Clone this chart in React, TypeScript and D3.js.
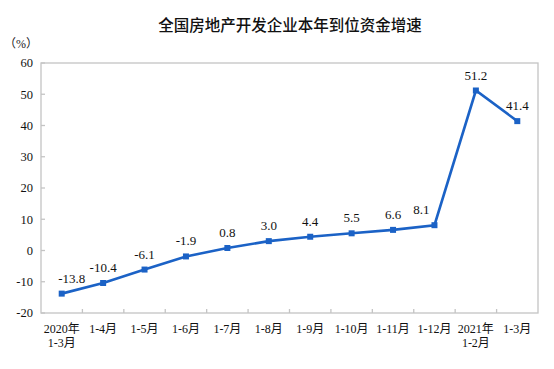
import React from "react";
import * as d3 from "d3";

const W = 554;
const H = 369;

// categories (multi-line labels split with \n)
const categories = [
  "2020年\n1-3月", "1-4月", "1-5月", "1-6月", "1-7月", "1-8月",
  "1-9月", "1-10月", "1-11月", "1-12月", "2021年\n1-2月", "1-3月",
];
const growth = [-13.8, -10.4, -6.1, -1.9, 0.8, 3.0, 4.4, 5.5, 6.6, 8.1, 51.2, 41.4];
const yTicks = [-20, -10, 0, 10, 20, 30, 40, 50, 60];

const margin = { top: 63, right: 16, bottom: 56, left: 41 };
const BLUE = "#1b62c6";
const SERIF = "'Liberation Serif', 'Times New Roman', 'Noto Sans CJK SC', serif";

export default function App() {
  const innerW = W - margin.left - margin.right;
  const innerH = H - margin.top - margin.bottom;

  const x = d3.scaleBand<string>().domain(categories).range([0, innerW]).padding(0);
  const y = d3.scaleLinear().domain([-20, 60]).range([innerH, 0]);
  const cx = (i: number) => (x(categories[i]) ?? 0) + x.bandwidth() / 2;

  const line = d3
    .line<number>()
    .x((_, i) => cx(i))
    .y((d) => y(d));

  // nudge a couple of labels like the original
  const labelShift = (i: number) => (i === 0 ? 10 : i === 9 ? -13 : 0);

  return (
    <svg
      width={W}
      height={H}
      style={{ position: "absolute", left: 0, top: 0, background: "#fff" }}
    >
      <text
        x={290}
        y={31}
        textAnchor="middle"
        fontFamily="'Noto Sans CJK SC', sans-serif"
        fontSize={15.5}
        fontWeight={500}
        fill="#111"
      >
        全国房地产开发企业本年到位资金增速
      </text>
      <text x={21} y={48} textAnchor="middle" fontFamily={SERIF} fontSize={12} fill="#222">
        （%）
      </text>

      <g transform={`translate(${margin.left},${margin.top})`}>
        <rect
          x={0}
          y={0}
          width={innerW}
          height={innerH}
          fill="none"
          stroke="#c4c4c4"
          strokeWidth={1.3}
        />
        {yTicks.map((t) => (
          <g key={t}>
            <line x1={0} x2={4} y1={y(t)} y2={y(t)} stroke="#c4c4c4" strokeWidth={1.3} />
            <text
              x={-8}
              y={y(t)}
              dy="0.35em"
              textAnchor="end"
              fontFamily={SERIF}
              fontSize={12.5}
              fill="#111"
            >
              {t}
            </text>
          </g>
        ))}
        {categories.slice(1).map((c) => (
          <line
            key={c}
            x1={x(c)}
            x2={x(c)}
            y1={innerH}
            y2={innerH - 4}
            stroke="#c4c4c4"
            strokeWidth={1.3}
          />
        ))}
        {categories.map((c, i) => (
          <text
            key={c}
            x={cx(i)}
            y={innerH + 20}
            textAnchor="middle"
            fontFamily={SERIF}
            fontSize={12}
            fill="#111"
          >
            {c.split("\n").map((s, j) => (
              <tspan key={j} x={cx(i)} dy={j === 0 ? 0 : 14}>
                {s}
              </tspan>
            ))}
          </text>
        ))}

        <path d={line(growth) ?? ""} fill="none" stroke={BLUE} strokeWidth={2.6} />
        {growth.map((v, i) => (
          <rect key={i} x={cx(i) - 3} y={y(v) - 3} width={6} height={6} fill={BLUE} />
        ))}
        {growth.map((v, i) => (
          <text
            key={i}
            x={cx(i) + labelShift(i)}
            y={y(v) - 11}
            textAnchor="middle"
            fontFamily={SERIF}
            fontSize={13}
            fill="#111"
          >
            {v.toFixed(1)}
          </text>
        ))}
      </g>
    </svg>
  );
}
